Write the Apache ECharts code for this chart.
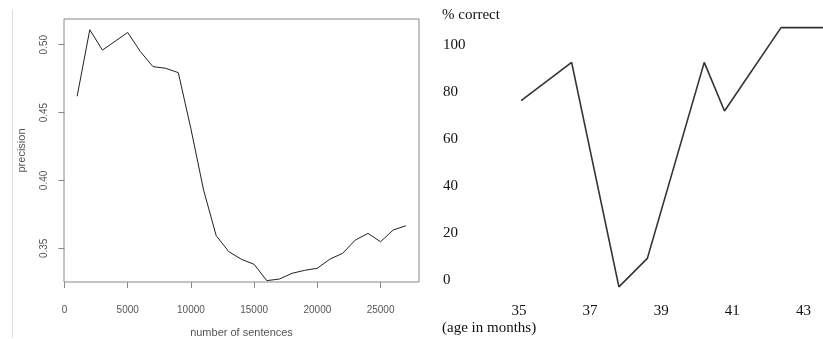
<!DOCTYPE html>
<html>
<head>
<meta charset="utf-8">
<script src="https://cdn.jsdelivr.net/npm/echarts@6/dist/echarts.min.js"></script>
<style>
html,body{margin:0;padding:0;background:#fff;}
#c{width:823px;height:339px;}
</style>
</head>
<body>
<div id="c"></div>
<script>
// Left chart: precision vs number of sentences
const sentences = [1000,2000,3000,4000,5000,6000,7000,8000,9000,10000,11000,12000,13000,14000,15000,16000,17000,18000,19000,20000,21000,22000,23000,24000,25000,26000,27000];
const precision = [0.462,0.511,0.496,0.5025,0.509,0.4949,0.4838,0.4826,0.4794,0.438,0.393,0.3593,0.3475,0.3419,0.3382,0.3262,0.3274,0.3316,0.3338,0.3353,0.3421,0.3463,0.3561,0.3610,0.3549,0.3635,0.3666];
const leftXTicks = [0,5000,10000,15000,20000,25000];
const leftYTicks = [0.35,0.40,0.45,0.50];

// Right chart: % correct vs age in months
const ageMonths = [35.06,36.48,37.81,38.61,40.21,40.78,42.37,43.55];
const pctCorrect = [76.3,92.6,-2.9,9.2,92.6,71.9,107.4,107.4];
const rightXTicks = [35,37,39,41,43];
const rightYTicks = [0,20,40,60,80,100];

const chart = echarts.init(document.getElementById('c'), null, {renderer:'canvas'});
const sans = 'Liberation Sans';
const serif = 'Liberation Serif';
const grey = '#888';

chart.setOption({
  animation:false,
  backgroundColor:'#fff',
  grid:[
    {left:64, right:404, top:19, bottom:57, show:true, borderColor:grey, borderWidth:1, backgroundColor:'transparent', outerBoundsMode:'none', containLabel:false},
    {left:519, right:0, top:21.5, bottom:59, show:false, outerBoundsMode:'none', containLabel:false}
  ],
  xAxis:[
    {gridIndex:0, type:'value', min:-40, max:28040,
     name:'number of sentences', nameLocation:'middle', nameGap:45,
     nameTextStyle:{fontFamily:sans, fontSize:11, color:'#555'},
     axisLine:{show:false},
     axisTick:{show:true, length:6, lineStyle:{color:grey}, customValues:leftXTicks},
     axisLabel:{fontFamily:sans, fontSize:10, color:'#555', margin:23, customValues:leftXTicks, formatter:v=>String(v)},
     splitLine:{show:false}},
    {gridIndex:1, type:'value', min:35, max:43.55,
     axisLine:{show:false},
     axisTick:{show:false},
     axisLabel:{fontFamily:serif, fontSize:15, color:'#111', margin:24, customValues:rightXTicks, formatter:v=>String(v)},
     splitLine:{show:false}}
  ],
  yAxis:[
    {gridIndex:0, type:'value', min:0.3252, max:0.5189,
     name:'precision', nameLocation:'middle', nameGap:37, nameRotate:90,
     nameTextStyle:{fontFamily:sans, fontSize:11, color:'#555'},
     axisLine:{show:false},
     axisTick:{show:true, length:6, lineStyle:{color:grey}, customValues:leftYTicks},
     axisLabel:{fontFamily:sans, fontSize:10, color:'#555', rotate:90, margin:14.5, customValues:leftYTicks,
       formatter:v=>v.toFixed(2)},
     splitLine:{show:false}},
    {gridIndex:1, type:'value', min:0, max:110,
     axisLine:{show:false},
     axisTick:{show:false},
     axisLabel:{fontFamily:serif, fontSize:15, color:'#111', margin:76, align:'left', customValues:rightYTicks, formatter:v=>String(v)},
     splitLine:{show:false}}
  ],
  graphic:[
    {type:'line', shape:{x1:12.5, y1:10, x2:12.5, y2:338}, style:{stroke:'#ddd', lineWidth:1}},
    {type:'text', left:442, top:8, style:{text:'% correct', font:'15px "Liberation Serif"', fill:'#111'}},
    {type:'text', left:442, top:321, style:{text:'(age in months)', font:'15px "Liberation Serif"', fill:'#111'}}
  ],
  series:[
    {type:'line', xAxisIndex:0, yAxisIndex:0, data:sentences.map((x,i)=>[x,precision[i]]),
     showSymbol:false, lineStyle:{color:'#222', width:1}, clip:false},
    {type:'line', xAxisIndex:1, yAxisIndex:1, data:ageMonths.map((x,i)=>[x,pctCorrect[i]]),
     showSymbol:false, lineStyle:{color:'#333', width:1.6}, clip:false}
  ]
});
</script>
</body>
</html>
